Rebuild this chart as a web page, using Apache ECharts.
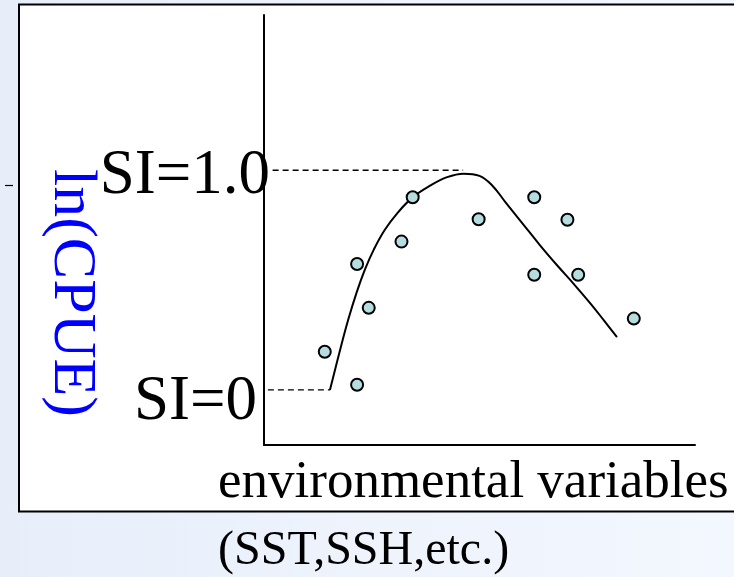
<!DOCTYPE html>
<html>
<head>
<meta charset="utf-8">
<script src="https://cdn.jsdelivr.net/npm/echarts@6/dist/echarts.min.js"></script>
<style>
html,body{margin:0;padding:0;width:734px;height:577px;overflow:hidden;background:linear-gradient(90deg,#e7eefa 0%,#eef3fc 50%,#f3f7fe 100%);}
#chart{width:734px;height:577px;}
</style>
</head>
<body>
<div id="chart"></div>
<script>
// Observations: environmental variable (x) vs ln(CPUE) (y)
var obsX = [34.5, 49.8, 31.9, 21.6, 24.3, 14.1, 21.6, 62.7, 70.4, 62.7, 72.9, 85.8];
var obsY = [57.6, 52.5, 47.3, 42.1, 31.9, 21.7, 14.0, 57.6, 52.4, 39.6, 39.6, 29.4];
// Fitted suitability curve
var curveX = [15.3, 17.5, 19.5, 21.5, 23.5, 25.5, 28.0, 31.0, 34.6, 38.5, 42.5, 46.3, 50.0, 53.0, 56.0, 60.0, 64.0, 68.0, 72.0, 76.0, 79.0, 81.9];
var curveY = [12.8, 21.5, 29.0, 35.5, 41.0, 45.5, 50.0, 54.0, 57.7, 60.3, 62.3, 63.1, 62.6, 60.3, 56.5, 51.5, 46.5, 41.8, 37.3, 32.6, 28.8, 25.1];
// Reference (dashed) levels
var siOneX = [2, 46.2];
var siOneY = [63.9, 63.9];
var siZeroX = [0.9, 15.3];
var siZeroY = [12.8, 12.8];
// Y-axis tick labels
var tickLabels = ['SI=0', 'SI=1.0'];
var tickValues = [9.8, 62.5];

function pairs(xs, ys){ return xs.map(function(v,i){ return [v, ys[i]]; }); }

var serif = "'Liberation Serif','Times New Roman',serif";
var chart = echarts.init(document.getElementById('chart'), null, {renderer:'canvas'});
chart.setOption({
  backgroundColor: 'transparent',
  animation: false,
  grid: {left: 264, right: 39, top: 15, bottom: 132},
  xAxis: {
    type: 'value', min: 0, max: 100,
    axisLine: {show: true, onZero: false, lineStyle: {color: '#000', width: 2}},
    axisTick: {show: false}, axisLabel: {show: false}, splitLine: {show: false}
  },
  yAxis: {
    type: 'value', min: 0, max: 100,
    axisLine: {show: true, onZero: false, lineStyle: {color: '#000', width: 2}},
    axisTick: {show: false}, splitLine: {show: false},
    axisLabel: {
      show: true,
      customValues: tickValues,
      margin: -6,
      formatter: function(v){
        var i = tickValues.indexOf(v);
        if (i < 0) return '';
        return i === 0 ? '{b|' + tickLabels[i] + '}' : '{a|' + tickLabels[i] + '}';
      },
      rich: {
        a: {fontFamily: serif, fontSize: 63, color: '#000'},
        b: {fontFamily: serif, fontSize: 63, color: '#000', padding: [0, 13, 0, 0]}
      }
    }
  },
  graphic: [
    {type: 'rect', z: -10, shape: {x: 19, y: 4.5, width: 730, height: 507}, style: {fill: '#fff', stroke: '#000', lineWidth: 2}},
    {type: 'line', z: -5, shape: {x1: 5, y1: 185.5, x2: 13, y2: 185.5}, style: {stroke: '#000', lineWidth: 1.2}},
    {type: 'text', x: 71, y: 293, rotation: -Math.PI/2, style: {text: 'ln(CPUE)', font: '62px ' + serif, fill: '#0000ff', align: 'center', verticalAlign: 'middle'}},
    {type: 'text', x: 218, y: 483, style: {text: 'environmental variables', font: '53px ' + serif, fill: '#000', align: 'left', verticalAlign: 'middle'}},
    {type: 'text', x: 218, y: 551, style: {text: '(SST,SSH,etc.)', font: '48px ' + serif, fill: '#000', align: 'left', verticalAlign: 'middle'}}
  ],
  series: [
    {type: 'line', data: pairs(siOneX, siOneY), symbol: 'none', lineStyle: {color: '#000', width: 1.3, type: [6, 4]}, silent: true},
    {type: 'line', data: pairs(siZeroX, siZeroY), symbol: 'none', lineStyle: {color: '#000', width: 1.3, type: [6, 4]}, silent: true},
    {type: 'line', data: pairs(curveX, curveY), symbol: 'none', smooth: 0.4, lineStyle: {color: '#000', width: 2}, silent: true},
    {type: 'scatter', data: pairs(obsX, obsY), symbol: 'circle', symbolSize: 12, itemStyle: {color: '#b5dde0', borderColor: '#000', borderWidth: 2, opacity: 1}, z: 5}
  ]
});
</script>
</body>
</html>
